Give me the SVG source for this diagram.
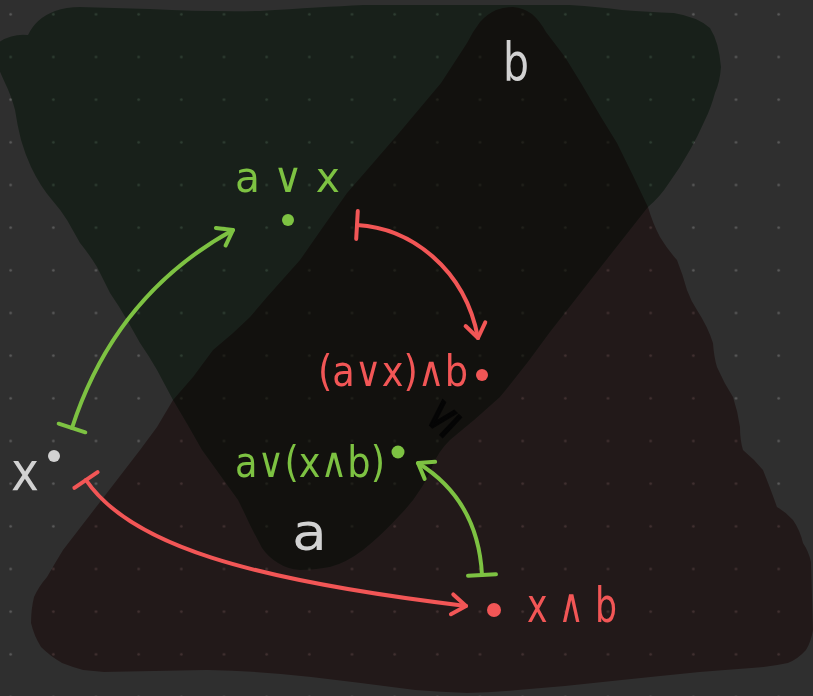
<svg xmlns="http://www.w3.org/2000/svg" width="813" height="696" viewBox="0 0 813 696">
  <defs>
    <pattern id="grid" patternUnits="userSpaceOnUse" x="-10.667" y="-7" width="42.667" height="42.667">
      <circle cx="21.333" cy="21.333" r="1.3" fill="#5c5c5c"/>
    </pattern>
    <marker id="arr-g" markerUnits="userSpaceOnUse" viewBox="-20 -15 25 30" refX="0" refY="0" markerWidth="25" markerHeight="30" orient="auto" overflow="visible">
      <path d="M-14,-10 L0,0 L-14,10" class="mk" stroke="#7dc242"/>
    </marker>
    <marker id="arr-r" markerUnits="userSpaceOnUse" viewBox="-20 -15 25 30" refX="0" refY="0" markerWidth="25" markerHeight="30" orient="auto" overflow="visible">
      <path d="M-14,-10 L0,0 L-14,10" class="mk" stroke="#f25656"/>
    </marker>
    <marker id="bar-g" markerUnits="userSpaceOnUse" viewBox="-5 -16 10 32" refX="0" refY="0" markerWidth="10" markerHeight="32" orient="auto" overflow="visible">
      <path d="M0,-14 L0,14" class="mk" stroke="#7dc242"/>
    </marker>
    <marker id="bar-r" markerUnits="userSpaceOnUse" viewBox="-5 -16 10 32" refX="0" refY="0" markerWidth="10" markerHeight="32" orient="auto" overflow="visible">
      <path d="M0,-14 L0,14" class="mk" stroke="#f25656"/>
    </marker>
  </defs>
  <style>
    .mk { fill: none; stroke-width: 4; stroke-linecap: round; stroke-linejoin: round; }
    .edge { fill: none; stroke-width: 4; stroke-linecap: round; }
    .eg { stroke: #7dc242; }
    .er { stroke: #f25656; }
    .lbl { font-family: "DejaVu Sans", "Noto Sans", sans-serif; }
    .tg { fill: #7dc242; }
    .tr { fill: #f25656; }
    .tw { fill: #d2d2d2; }
    .region { mix-blend-mode: multiply; }
  </style>
  <rect x="0" y="0" width="813" height="696" fill="#2f2f2f"/>
  <rect x="0" y="0" width="813" height="696" fill="url(#grid)"/>

  <g id="regions">
    <path id="up-a" class="region" fill="#82ae8d" d="M-5,45 Q10,33 28,35 Q36,18 55,11 Q66,7 80,7 L150,9 Q210,12 260,11 Q320,7 363,5 L570,5 Q600,7 622,10 Q650,12 674,13 Q698,17 710,28 Q719,42 721,67 Q720,82 715,93 Q711,108 705,120 Q698,136 690,150 Q680,168 669,183 Q660,197 648,207 L600,268 L550,332 Q525,367 500,397 Q475,420 450,440 Q438,452 433,465 Q427,480 420,490 Q412,503 400,515 Q383,534 363,550 Q346,563 330,567 Q314,570 300,570 Q287,569 278,563 Q268,557 262,548 Q255,535 250,525 Q244,512 238,500 L202,450 Q188,425 173,400 L157,370 Q149,356 140,343 L127,320 Q119,306 110,293 L97,267 Q89,254 80,243 L67,220 Q60,209 52,200 Q40,186 31,167 Q25,154 21,140 Q17,124 15,110 Q11,95 5,83 Q0,72 -5,60 Z"/>
    <path id="down-b" class="region" fill="#b88888" d="M513,7 Q524,8 532,14 Q540,21 546,32 L565,57 L581,83 L601,117 L617,143 Q633,175 648,207 Q653,224 660,237 Q668,250 677,260 Q683,275 687,290 Q691,301 697,310 Q708,327 713,343 Q714,357 717,367 Q724,383 733,397 Q738,412 740,427 Q740,440 743,450 Q754,459 763,470 Q771,490 777,507 Q786,512 793,520 Q800,530 803,543 Q809,552 811,562 L813,630 Q811,642 806,650 Q798,659 788,663 Q770,667 752,668 Q725,670 700,672 Q660,676 622,680 Q570,686 518,690 Q492,693 467,693 Q440,692 415,690 Q362,683 311,677 Q258,671 207,670 Q155,671 104,672 Q93,671 83,670 Q72,667 62,663 Q50,656 41,647 Q34,636 31,623 Q31,609 34,597 Q39,586 47,577 Q55,563 63,550 L140,450 L157,427 L173,400 L193,377 L213,350 L233,333 L250,317 L267,297 L300,260 L323,227 L347,193 L367,170 L399,133 L441,83 L467,43 Q473,31 480,22 Q487,14 496,10 Q504,7 513,7 Z"/>
    <text class="lbl tw" x="503" y="81" font-size="54" textLength="26" lengthAdjust="spacingAndGlyphs">b</text>
    <text class="lbl tw" x="292" y="550" font-size="52" textLength="35" lengthAdjust="spacingAndGlyphs">a</text>
  </g>

  <g id="connectors">
    <path class="edge eg" d="M72,428 Q115,295 233,230" marker-start="url(#bar-g)" marker-end="url(#arr-g)"/>
    <path class="edge er" d="M357,225 C410,228 465,268 478,338" marker-start="url(#bar-r)" marker-end="url(#arr-r)"/>
    <path class="edge er" d="M86,480 C130,545 250,580 466,606" marker-start="url(#bar-r)" marker-end="url(#arr-r)"/>
    <path class="edge eg" d="M482,575 Q478,500 418,463" marker-start="url(#bar-g)" marker-end="url(#arr-g)"/>
  </g>

  <g id="node-x">
    <circle cx="54" cy="456" r="6" fill="#d2d2d2"/>
    <text class="lbl tw" x="11" y="490" font-size="54" textLength="28" lengthAdjust="spacingAndGlyphs">x</text>
  </g>
  <g id="node-a-or-x">
    <circle cx="288" cy="220" r="6" fill="#7dc242"/>
    <text class="lbl tg" x="235" y="192" font-size="42" textLength="105" lengthAdjust="spacingAndGlyphs">a ∨ x</text>
  </g>
  <g id="node-aorx-and-b">
    <circle cx="482" cy="375" r="6" fill="#f25656"/>
    <text class="lbl tr" x="318" y="386" font-size="42" textLength="150" lengthAdjust="spacingAndGlyphs">(a∨x)∧b</text>
  </g>
  <g id="node-a-or-xandb">
    <circle cx="398" cy="452" r="6.5" fill="#7dc242"/>
    <text class="lbl tg" x="235" y="477" font-size="42" textLength="150" lengthAdjust="spacingAndGlyphs">a∨(x∧b)</text>
  </g>
  <g id="node-x-and-b">
    <circle cx="494" cy="610" r="7" fill="#f25656"/>
    <text class="lbl tr" x="527" y="622" font-size="48" textLength="90" lengthAdjust="spacingAndGlyphs">x ∧ b</text>
  </g>
  <g id="relation">
    <text class="lbl" fill="#050505" stroke="#050505" stroke-width="1.5" font-size="44" text-anchor="middle" transform="translate(441,417) rotate(-47)" x="0" y="15">≤</text>
  </g>
</svg>
